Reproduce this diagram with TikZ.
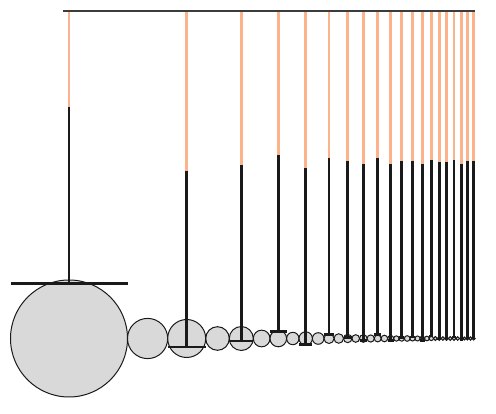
\documentclass[tikz,border=0pt]{standalone}
\usepackage{tikz}
\definecolor{strorange}{RGB}{252,178,138}
\definecolor{ballgray}{RGB}{217,217,217}
\definecolor{inkdark}{RGB}{26,26,26}
\tikzset{
  ball/.style={fill=ballgray,draw=inkdark,line width=1pt},
  orangeline/.style={draw=strorange,line width=2.7pt},
  blackline/.style={draw=inkdark,line width=2.6pt},
  barline/.style={draw=inkdark,line width=2.4pt},
  topline/.style={draw=inkdark!85,line width=2pt}
}
\begin{document}
\begin{tikzpicture}[x=1pt,y=-1pt]
\useasboundingbox (0,0) rectangle (496,414);
\def\LX{{69,186.7,241.3,278.3,305.7,329,347.7,363.3,377.7,390.7,401.7,412.5,422.3,431.3,439.2,446.5,454,461.2,467.3,473.7}}
\def\RR{{58.5,19,12,8.3,6.7,5,4.2,3.8,3.4,3.0,2.7,2.5,2.3,2.1,1.9,1.8,1.8,1.7,1.5,1.5}}
\def\BB{{107,170.7,164.7,155,168,158,161,164,158,164,161,160.7,164,159.7,162.3,162,160.3,163.7,161,161}}
\def\cy{338.5}
% in-between balls
\foreach \i in {0,...,18} {
  \pgfmathsetmacro\xa{\LX[\i]}
  \pgfmathsetmacro\xb{\LX[\i+1]}
  \pgfmathsetmacro\ra{\RR[\i]}
  \pgfmathsetmacro\rb{\RR[\i+1]}
  \pgfmathsetmacro\s{(\xb-\xa-\ra-\rb)/2}
  \pgfmathsetmacro\c{\xa+\ra+\s}
  \path[ball] (\c,\cy) circle[radius=\s];
}
% hanging balls
\foreach \i in {0,...,19} {
  \pgfmathsetmacro\xa{\LX[\i]}
  \pgfmathsetmacro\ra{\RR[\i]}
  \path[ball] (\xa,\cy) circle[radius=\ra];
}
% strings and bars
\foreach \i in {0,...,19} {
  \pgfmathsetmacro\xa{\LX[\i]}
  \pgfmathsetmacro\ra{\RR[\i]}
  \pgfmathsetmacro\b{\BB[\i]}
  \pgfmathsetmacro\e{\b+176.5}
  \coordinate (t\i) at (\xa,10.7);
  \coordinate (m\i) at (\xa,\b);
  \coordinate (e\i) at (\xa,\e);
  \draw[orangeline] (t\i) -- (m\i);
  \draw[blackline] (m\i) -- (e\i);
  \draw[barline] ([xshift=-\ra pt]e\i) -- ([xshift=\ra pt]e\i);
}
\coordinate (topL) at (63.3,10.7);
\coordinate (topR) at (475,10.7);
\draw[topline] (topL) -- (topR);
\end{tikzpicture}
\end{document}
